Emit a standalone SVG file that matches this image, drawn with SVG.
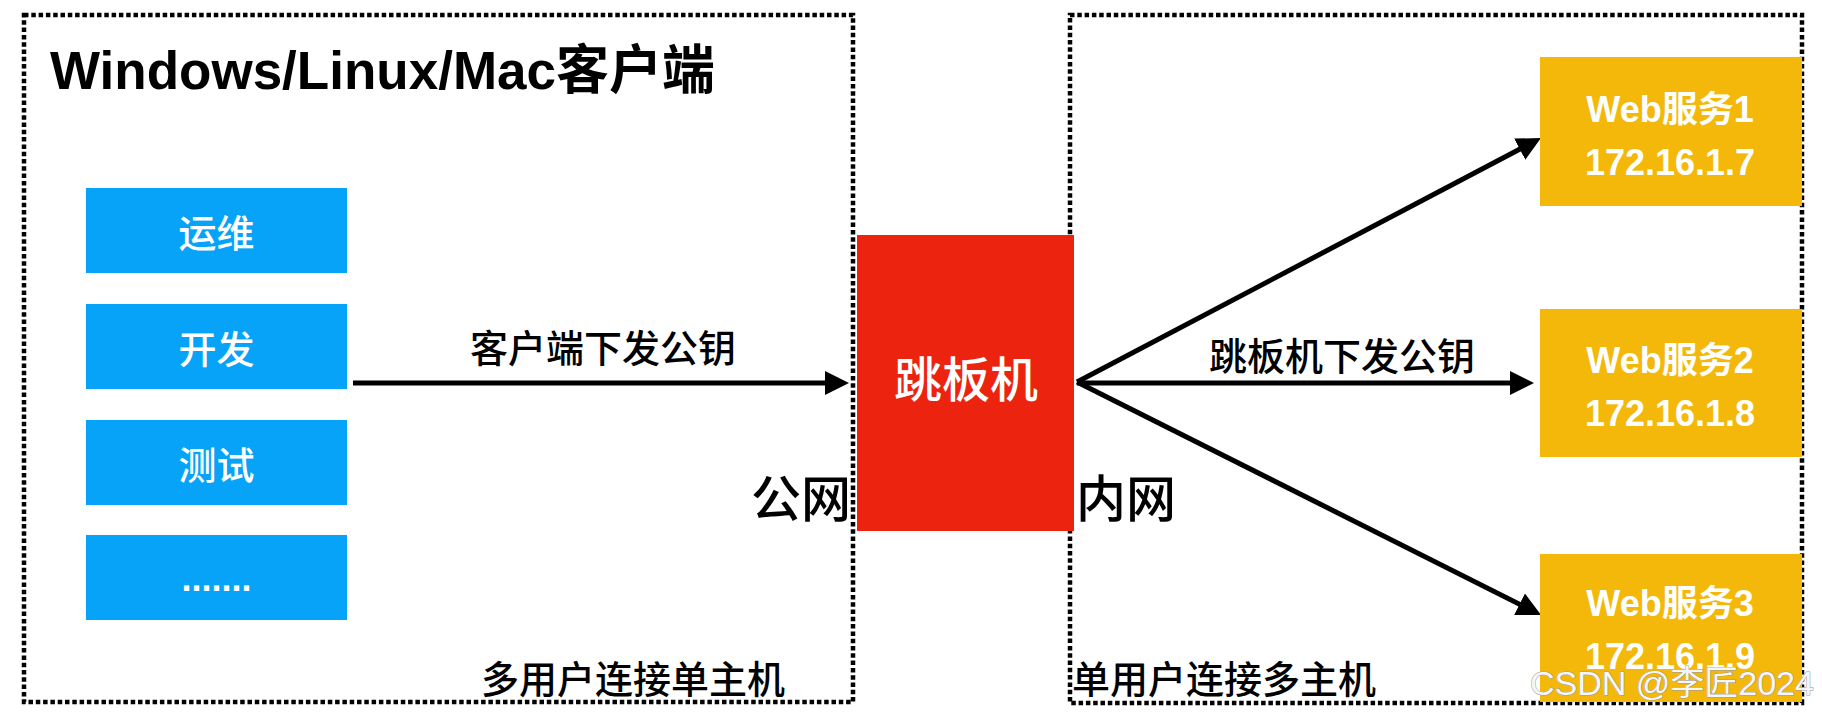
<svg xmlns="http://www.w3.org/2000/svg" width="1822" height="717" viewBox="0 0 1822 717">
<defs>
<style>
text{font-family:"Liberation Sans","Noto Sans CJK SC",sans-serif;}
.frame{fill:none;stroke:#000;stroke-width:4.5;stroke-dasharray:4.5 2.8;}
.blue{fill:#06A3F8;}
.orange{fill:#F4B80A;}
.red{fill:#EC230F;}
.wt{fill:#fff;font-weight:500;text-anchor:middle;}
.wb{fill:#fff;font-weight:bold;text-anchor:middle;}
.bt{fill:#000;font-weight:500;}
.conn{stroke:#000;stroke-width:5;fill:none;marker-end:url(#ah);}
</style>
<marker id="ah" viewBox="0 0 24 24" refX="14" refY="12" markerWidth="24" markerHeight="24" markerUnits="userSpaceOnUse" orient="auto">
<path d="M0,0 L24,12 L0,24 z" fill="#000"/>
</marker>
</defs>
<rect width="1822" height="717" fill="#fff"/>

<g id="client-zone">
<rect class="frame" x="24" y="15" width="829" height="687"/>
<text x="50" y="89" font-size="53" font-weight="bold" fill="#000">Windows/Linux/Mac客户端</text>
<text class="bt" x="481" y="693" font-size="38">多用户连接单主机</text>
<text class="bt" x="851" y="517" font-size="50" text-anchor="end">公网</text>
</g>

<g id="intranet-zone">
<rect class="frame" x="1070" y="15" width="732" height="688"/>
<text class="bt" x="1076" y="517" font-size="50">内网</text>
<text class="bt" x="1072" y="693" font-size="38">单用户连接多主机</text>
</g>

<g id="connectors">
<line class="conn" x1="353" y1="383" x2="839" y2="383"/>
<text class="bt" x="603" y="362" font-size="38" text-anchor="middle">客户端下发公钥</text>
<line class="conn" x1="1077" y1="382" x2="1532.1" y2="142.7"/>
<line class="conn" x1="1077" y1="383" x2="1524" y2="383"/>
<text class="bt" x="1342" y="370" font-size="38" text-anchor="middle">跳板机下发公钥</text>
<line class="conn" x1="1077" y1="382" x2="1532.1" y2="610.5"/>
</g>

<g id="node-ops">
<rect class="blue" x="86" y="188" width="261" height="85"/>
<text class="wt" x="216.5" y="247" font-size="38">运维</text>
</g>
<g id="node-dev">
<rect class="blue" x="86" y="304" width="261" height="85"/>
<text class="wt" x="216.5" y="363" font-size="38">开发</text>
</g>
<g id="node-test">
<rect class="blue" x="86" y="420" width="261" height="85"/>
<text class="wt" x="216.5" y="479" font-size="38">测试</text>
</g>
<g id="node-more">
<rect class="blue" x="86" y="535" width="261" height="85"/>
<text class="wb" x="216.5" y="591" font-size="36">.......</text>
</g>

<g id="node-jump">
<rect class="red" x="857" y="235" width="217" height="296"/>
<text class="wt" x="966" y="397" font-size="48">跳板机</text>
</g>

<g id="node-web1">
<rect class="orange" x="1540" y="57" width="262" height="149"/>
<text class="wb" x="1670" y="122" font-size="36">Web服务1</text>
<text class="wb" x="1670" y="175" font-size="36">172.16.1.7</text>
</g>
<g id="node-web2">
<rect class="orange" x="1540" y="309" width="262" height="148"/>
<text class="wb" x="1670" y="373" font-size="36">Web服务2</text>
<text class="wb" x="1670" y="426" font-size="36">172.16.1.8</text>
</g>
<g id="node-web3">
<rect class="orange" x="1540" y="554" width="262" height="148"/>
<text class="wb" x="1670" y="616" font-size="36">Web服务3</text>
<text class="wb" x="1670" y="669" font-size="36">172.16.1.9</text>
</g>

<text x="1530" y="695" font-size="34" fill="#f6f6f6" stroke="#9a9a9a" stroke-width="1" paint-order="stroke">CSDN @李匠2024</text>
</svg>
